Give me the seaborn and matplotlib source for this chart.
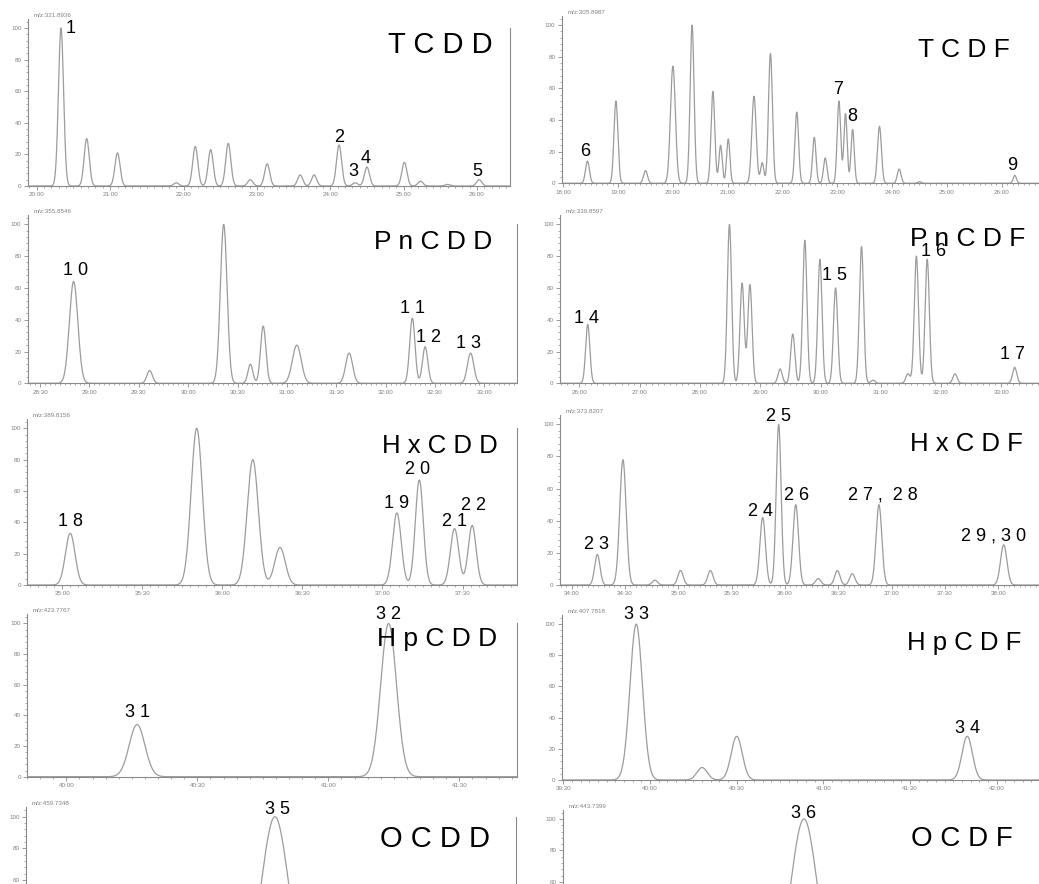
import numpy as np
import pandas as pd
import matplotlib
matplotlib.use("Agg")
import matplotlib.pyplot as plt
from matplotlib.ticker import FixedLocator, MultipleLocator, FuncFormatter
import seaborn as sns

# Peak tables:
# retention time (min), relative abundance (%), peak sigma (min)
tcdd_rt = [20.33, 20.68, 21.10, 21.90, 22.16, 22.37, 22.61, 22.91, 23.14, 23.59,
           23.78, 24.12, 24.34, 24.50, 25.01, 25.23, 25.60, 26.03]
tcdd_h = [100, 30, 21, 2, 25, 23, 27, 4, 14, 7, 7, 26, 2, 12, 15, 3, 1, 4]
tcdd_sig = 0.035

tcdf_rt = [18.44, 18.96, 19.50, 20.00, 20.35, 20.73, 20.87, 21.01, 21.48, 21.63,
           21.78, 22.26, 22.58, 22.78, 23.03, 23.15, 23.28, 23.77, 24.13, 24.50, 26.24]
tcdf_h = [14, 52, 8, 74, 100, 58, 24, 28, 55, 13, 82, 45, 29, 16, 52, 44, 34, 36, 9, 1, 5]
tcdf_sig = [0.036, 0.036, 0.036, 0.045, 0.036, 0.034, 0.03, 0.03, 0.04, 0.03,
            0.036, 0.034, 0.032, 0.032, 0.032, 0.03, 0.03, 0.036, 0.034, 0.03, 0.03]

pncdd_rt = [28.84, 29.61, 30.36, 30.63, 30.76, 31.10, 31.63, 32.27, 32.40, 32.86]
pncdd_h = [64, 8, 100, 12, 36, 24, 19, 41, 23, 19]
pncdd_sig = [0.043, 0.028, 0.034, 0.025, 0.027, 0.045, 0.035, 0.027, 0.027, 0.032]

pncdf_rt = [26.14, 28.49, 28.70, 28.83, 29.33, 29.54, 29.74, 29.99, 30.25, 30.68,
            30.87, 31.45, 31.59, 31.77, 32.23, 33.22]
pncdf_h = [37, 100, 63, 62, 9, 31, 90, 78, 60, 86, 2, 6, 80, 78, 6, 10]
pncdf_sig = 0.035

hxcdd_rt = [35.05, 35.84, 36.19, 36.36, 37.09, 37.23, 37.45, 37.56]
hxcdd_h = [33, 100, 80, 24, 46, 67, 36, 38]
hxcdd_sig = [0.03, 0.035, 0.035, 0.033, 0.027, 0.025, 0.026, 0.025]

hxcdf_rt = [34.24, 34.48, 34.78, 35.02, 35.30, 35.79, 35.94, 36.10, 36.31, 36.49,
            36.63, 36.88, 38.05]
hxcdf_h = [19, 78, 3, 9, 9, 42, 100, 50, 4, 9, 7, 50, 25]
hxcdf_sig = [0.025, 0.03, 0.025, 0.025, 0.025, 0.026, 0.023, 0.026, 0.025, 0.025,
             0.025, 0.027, 0.03]

hpcdd_rt = [40.27, 41.23]
hpcdd_h = [34, 100]
hpcdd_sig = 0.03

hpcdf_rt = [39.92, 40.30, 40.50, 41.83]
hpcdf_h = [100, 8, 28, 28]
hpcdf_sig = [0.036, 0.03, 0.032, 0.03]

ocdd_rt = [45.45]
ocdd_h = [100]
ocdd_sig = 0.05

ocdf_rt = [45.89]
ocdf_h = [100]
ocdf_sig = 0.074

# congener names, monitored masses, x ticks
names = ["T C D D", "T C D F", "P n C D D", "P n C D F", "H x C D D",
         "H x C D F", "H p C D D", "H p C D F", "O C D D", "O C D F"]
mz_labels = ["m/z:321.8936", "m/z:305.8987", "m/z:355.8546", "m/z:339.8597",
             "m/z:389.8156", "m/z:373.8207", "m/z:423.7767", "m/z:407.7818",
             "m/z:459.7348", "m/z:443.7399"]
xticks = [np.arange(20, 26.01, 1), np.arange(18, 26.01, 1), np.arange(28.5, 33.01, 0.5),
          np.arange(26, 33.01, 1), np.arange(35, 37.51, 0.5), np.arange(34, 38.01, 0.5),
          np.arange(40, 41.51, 0.5), np.arange(39.5, 42.01, 0.5),
          np.arange(44.5, 46.01, 0.5), np.arange(44.5, 47.01, 0.5)]
xlims = [(19.88, 26.45), (17.97, 26.70), (28.375, 33.33), (25.68, 33.64),
         (34.78, 37.84), (33.89, 38.39), (39.85, 41.72), (39.49, 42.25),
         (44.5, 46.37), (44.5, 47.25)]

# peak number labels: text, time, height of label centre
peak_labels = [
    [("1", 20.46, 100), ("2", 24.12, 31), ("3", 24.31, 9), ("4", 24.48, 17.5), ("5", 26.01, 9)],
    [("6", 18.39, 20), ("7", 23.01, 59), ("8", 23.28, 42), ("9", 26.2, 11)],
    [("1 0", 28.86, 71), ("1 1", 32.27, 47), ("1 2", 32.43, 29), ("1 3", 32.84, 25)],
    [("1 4", 26.12, 41), ("1 5", 30.24, 68), ("1 6", 31.87, 83), ("1 7", 33.19, 18)],
    [("1 8", 35.05, 40.5), ("1 9", 37.09, 52), ("2 0", 37.22, 74), ("2 1", 37.45, 40.5),
     ("2 2", 37.57, 50.5)],
    [("2 3", 34.23, 25.5), ("2 4", 35.77, 46), ("2 5", 35.94, 105), ("2 6", 36.11, 55.5),
     ("2 7 ,  2 8", 36.92, 56), ("2 9 , 3 0", 37.95, 30.5)],
    [("3 1", 40.27, 41.7), ("3 2", 41.23, 106)],
    [("3 3", 39.92, 106), ("3 4", 41.83, 32.7)],
    [("3 5", 45.46, 104.7)],
    [("3 6", 45.89, 103.6)],
]

rts = [tcdd_rt, tcdf_rt, pncdd_rt, pncdf_rt, hxcdd_rt, hxcdf_rt, hpcdd_rt, hpcdf_rt, ocdd_rt, ocdf_rt]
hts = [tcdd_h, tcdf_h, pncdd_h, pncdf_h, hxcdd_h, hxcdf_h, hpcdd_h, hpcdf_h, ocdd_h, ocdf_h]
sigs = [tcdd_sig, tcdf_sig, pncdd_sig, pncdf_sig, hxcdd_sig, hxcdf_sig, hpcdd_sig, hpcdf_sig,
        ocdd_sig, ocdf_sig]

# layout in pixels: left, right, baseline y, pixels per % unit
W, H = 1039, 884
rects = [(28, 510, 186, 1.58), (561.7, 1040, 183.3, 1.583),
         (27.7, 517, 383.3, 1.59), (560, 1040, 383.3, 1.59),
         (27, 517, 585, 1.567), (560, 1040, 585, 1.607),
         (27, 517, 776.7, 1.533), (561.7, 1040, 780, 1.56),
         (26, 516, 974.7, 1.58), (562.7, 1040, 976, 1.57)]
# title right edge (axes fraction), title centre height (data), font size
title_pos = [(0.963, 89, 21), (0.937, 84, 19), (0.949, 89, 19), (0.969, 91, 19),
             (0.961, 88.7, 18.5), (0.965, 88, 18.5), (0.959, 89.8, 19), (0.962, 87.8, 18.5),
             (0.947, 85.7, 21), (0.943, 87, 20)]

YTOP = 106
trace_color = "#9c9c9c"
axis_color = "#8a8a8a"
tick_text = "#808080"

sns.set_style("white")
plt.rcParams["font.family"] = ["Liberation Sans", "DejaVu Sans"]

fig = plt.figure(figsize=(W / 100, H / 100), dpi=100)
fig.patch.set_facecolor("white")


def mmss(v, pos):
    m = int(np.floor(v + 1e-6))
    s = int(round((v - m) * 60))
    return f"{m:02d}:{s:02d}"


for i in range(10):
    L, R, base, ppu = rects[i]
    ax = fig.add_axes([L / W, 1 - base / H, (R - L) / W, YTOP * ppu / H])
    ax.set_facecolor("none")

    x0, x1 = xlims[i]
    t = np.arange(x0, x1, 0.003)
    sig = np.broadcast_to(np.asarray(sigs[i], dtype=float), (len(rts[i]),))
    y = np.zeros_like(t)
    for rt, h, s in zip(rts[i], hts[i], sig):
        y += h * np.exp(-0.5 * ((t - rt) / s) ** 2)
    df = pd.DataFrame({"time": t, "abundance": y})
    sns.lineplot(data=df, x="time", y="abundance", ax=ax, color=trace_color,
                 lw=0.9, estimator=None, sort=False)

    ax.set_xlim(x0, x1)
    ax.set_ylim(0, YTOP)
    ax.set_xlabel("")
    ax.set_ylabel("")

    bottom_row = i >= 8
    ax.yaxis.set_major_locator(FixedLocator([60, 80, 100] if bottom_row else [0, 20, 40, 60, 80, 100]))
    ax.yaxis.set_minor_locator(MultipleLocator(4))
    ax.xaxis.set_major_locator(FixedLocator(xticks[i]))
    step = xticks[i][1] - xticks[i][0]
    ax.xaxis.set_minor_locator(MultipleLocator(step / 10))
    ax.xaxis.set_major_formatter(FuncFormatter(mmss))
    ax.tick_params(axis="both", which="major", length=3, width=0.6, color=axis_color,
                   labelsize=4.5, labelcolor=tick_text, pad=1.5, direction="out")
    ax.tick_params(axis="both", which="minor", length=1.5, width=0.5, color=axis_color)
    ax.tick_params(left=True, bottom=True, which="both")
    if bottom_row:
        ax.tick_params(labelbottom=False)

    ax.spines["top"].set_visible(False)
    for sp in ["left", "bottom"]:
        ax.spines[sp].set_color(axis_color)
        ax.spines[sp].set_linewidth(0.8)
    if i % 2 == 0:
        ax.spines["right"].set_visible(True)
        ax.spines["right"].set_color(axis_color)
        ax.spines["right"].set_linewidth(0.8)
        ax.spines["right"].set_bounds(0, 100)
    else:
        ax.spines["right"].set_visible(False)

    ax.text(0.012, 1.005, mz_labels[i], transform=ax.transAxes, ha="left", va="bottom",
            fontsize=4.5, color=tick_text)

    tx, ty, fs = title_pos[i]
    ax.text(tx, ty, names[i], transform=ax.get_yaxis_transform(), ha="right", va="center",
            fontsize=fs, color="black")

    for lab, lt, ly in peak_labels[i]:
        ax.text(lt, ly, lab, ha="center", va="center", fontsize=13, color="black",
                clip_on=False)

fig.savefig("out.png", dpi=100, facecolor="white")
